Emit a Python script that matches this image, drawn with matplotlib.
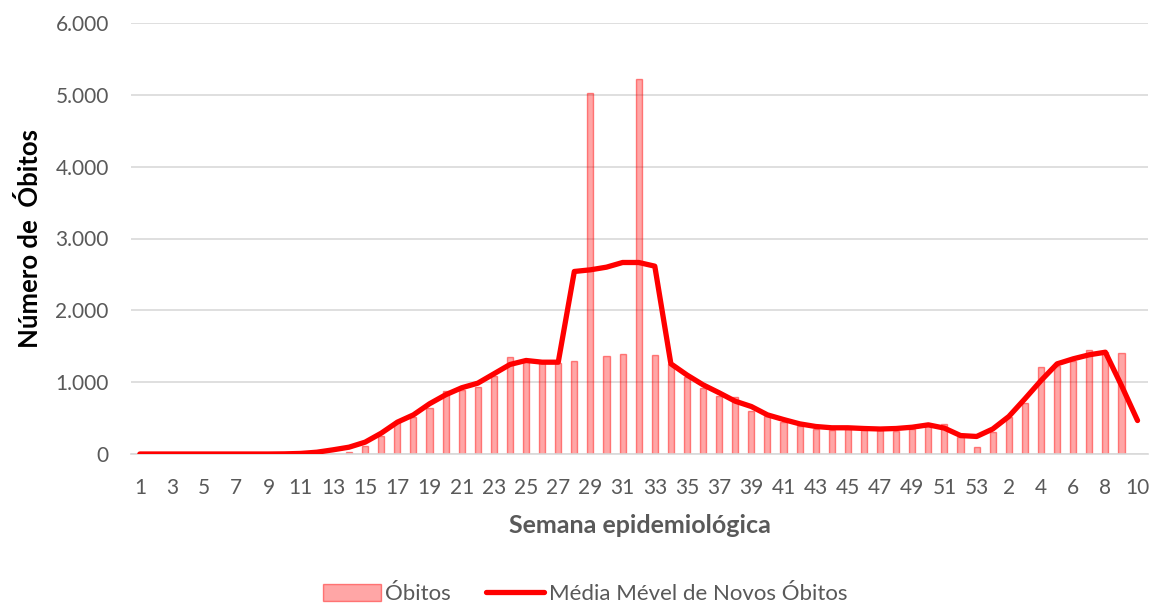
import numpy as np
import matplotlib.pyplot as plt
from matplotlib.ticker import FuncFormatter

# semanas epidemiologicas: 1..53 (2020) e 1..10 (2021)
semanas = [str(s) for s in range(1, 54)] + [str(s) for s in range(1, 11)]

obitos = [0, 0, 0, 0, 0, 0, 0, 0, 0, 0,
          0, 0, 5, 30, 118, 257, 443, 515, 643, 874,
          893, 935, 1080, 1353, 1290, 1260, 1270, 1292, 5032, 1362,
          1399, 5214, 1385, 1250, 1069, 915, 814, 790, 605, 535,
          443, 383, 348, 334, 348, 334, 334, 327, 348, 383,
          418, 234, 104, 304, 512, 707, 1208, 1232, 1292, 1448,
          1424, 1401, np.nan]

media_movel = [0, 0, 0, 0, 0, 0, 0, 0, 0, 2,
               8, 25, 58, 95, 165, 290, 443, 545, 699, 824,
               922, 986, 1116, 1246, 1302, 1278, 1278, 2541, 2564, 2601,
               2666, 2666, 2615, 1256, 1100, 963, 852, 735, 661, 545,
               480, 420, 383, 365, 365, 355, 348, 355, 373, 406,
               360, 257, 244, 348, 522, 768, 1022, 1255, 1325, 1381,
               1417, 954, 466]

plt.rcParams['font.family'] = ['Lato', 'DejaVu Sans']
fig = plt.figure(figsize=(11.54, 6.09), dpi=100)
ax = fig.add_axes([131 / 1154, 1 - 454 / 609, (1148 - 131) / 1154, (454 - 23) / 609])

x = np.arange(len(semanas))
barras = ax.bar(x, obitos, width=0.38, color=(1, 0, 0, 0.35), edgecolor=(1, 0, 0, 0.45),
                linewidth=1, label='Óbitos', zorder=2)
linha, = ax.plot(x, media_movel, color='#ff0000', linewidth=3.8, solid_capstyle='round',
                 label='Média Mével de Novos Óbitos', zorder=3)

ax.set_ylim(0, 6000)
ax.set_yticks(range(0, 6001, 1000))
ax.yaxis.set_major_formatter(FuncFormatter(lambda v, p: f'{int(v):,}'.replace(',', '.')))
ax.set_xlim(-0.55, len(semanas) - 0.35)
ax.set_xticks(x[::2])
ax.set_xticklabels(semanas[::2])

ax.grid(axis='y', color='#d9d9d9', linewidth=1.2, zorder=0)
ax.set_axisbelow(True)
for s in ['top', 'right', 'left']:
    ax.spines[s].set_visible(False)
ax.spines['bottom'].set_color('#d9d9d9')
ax.spines['bottom'].set_linewidth(1.2)
ax.tick_params(axis='both', length=0, labelsize=15, colors='#595959')
ax.tick_params(axis='y', pad=16)
ax.tick_params(axis='x', pad=17)

ax.set_ylabel('Número de  Óbitos', fontsize=18.5, fontweight='bold', color='black', labelpad=10)
ax.set_xlabel('Semana epidemiológica', fontsize=18, fontweight='bold', color='#595959', labelpad=12)

fig.legend([barras, linha], ['Óbitos', 'Média Mével de Novos Óbitos'],
           loc='center', bbox_to_anchor=(0.507, 1 - 594 / 609), ncol=2, frameon=False,
           fontsize=16, labelcolor='#595959', handlelength=2.6, handleheight=0.8,
           handletextpad=0.2, columnspacing=1.6)

plt.savefig('out.png', dpi=100)
